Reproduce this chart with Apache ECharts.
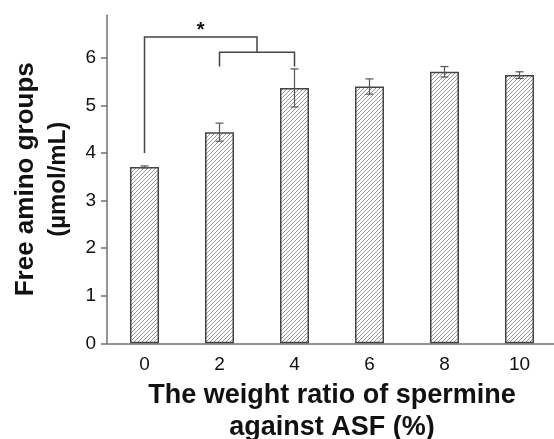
<!DOCTYPE html>
<html>
<head>
<meta charset="utf-8">
<script src="https://cdn.jsdelivr.net/npm/echarts@6/dist/echarts.min.js"></script>
<style>html,body{margin:0;padding:0;background:#fff;}#c{width:554px;height:439px;}</style>
</head>
<body>
<div id="c"></div>
<script>
var categories = ['0', '2', '4', '6', '8', '10'];
var means = [3.71, 4.44, 5.37, 5.40, 5.71, 5.64];
var errors = [0.02, 0.19, 0.40, 0.16, 0.11, 0.07];
var yTicks = [0, 1, 2, 3, 4, 5, 6];
// significance bracket: group 0 vs groups 1 & 2
var sigLeft = 0;
var sigRight = [1, 2];
var sigLegBottoms = [4.0, 5.82, 5.82];
var sigOuterY = 6.44;
var sigInnerY = 6.12;
var sigStarY = 6.58;
var sigLabel = '*';

var pat = document.createElement('canvas');
pat.width = 4; pat.height = 4;
var g = pat.getContext('2d');
g.fillStyle = '#ffffff'; g.fillRect(0, 0, 4, 4);
g.strokeStyle = '#7c7c7c'; g.lineWidth = 0.8;
g.beginPath();
g.moveTo(-1, 5); g.lineTo(5, -1);
g.moveTo(-1, 1); g.lineTo(1, -1);
g.moveTo(3, 5); g.lineTo(5, 3);
g.stroke();

var chart = echarts.init(document.getElementById('c'), null, {renderer: 'canvas'});
var axisColor = '#707070';
var font = 'Liberation Sans, Arial, sans-serif';

chart.setOption({
  animation: false,
  grid: {left: 107, right: -3, top: 15.2, bottom: 95.7, outerBoundsMode: 'none'},
  xAxis: {
    type: 'category',
    data: categories,
    axisLine: {lineStyle: {color: axisColor, width: 1.5}},
    axisTick: {alignWithLabel: true, length: 6, lineStyle: {color: axisColor, width: 1.5}},
    axisLabel: {fontSize: 19, color: '#111', margin: 12, fontFamily: font},
    name: 'The weight ratio of spermine\nagainst ASF (%)',
    nameLocation: 'middle',
    nameGap: 32,
    nameTextStyle: {fontSize: 27, fontWeight: 'bold', color: '#111', lineHeight: 32, fontFamily: font}
  },
  yAxis: {
    type: 'value',
    min: 0, max: 6.9,
    interval: 1,
    splitLine: {show: false},
    axisLine: {show: true, lineStyle: {color: axisColor, width: 1.5}},
    axisTick: {show: true, length: 6, customValues: yTicks, lineStyle: {color: axisColor, width: 1.5}},
    axisLabel: {fontSize: 19, color: '#111', margin: 11, customValues: yTicks, fontFamily: font},
    name: '{a|Free amino groups}\n{b|(µmol/mL)}',
    nameLocation: 'middle',
    nameRotate: 90,
    nameGap: 33,
    nameTextStyle: {
      color: '#111', fontFamily: font, fontWeight: 'bold',
      rich: {
        a: {fontSize: 26, fontWeight: 'bold', lineHeight: 32, fontFamily: font, color: '#111'},
        b: {fontSize: 24, fontWeight: 'bold', lineHeight: 32, fontFamily: font, color: '#111'}
      }
    }
  },
  series: [
    {
      type: 'bar',
      data: means,
      barWidth: 29,
      itemStyle: {color: {image: pat, repeat: 'repeat'}, borderColor: '#444', borderWidth: 1.5},
      z: 2
    },
    {
      type: 'custom',
      z: 3,
      data: means.map(function (m, i) { return [i, m, errors[i]]; }),
      renderItem: function (params, api) {
        var i = api.value(0), m = api.value(1), e = api.value(2);
        var top = api.coord([i, m + e]);
        var bot = api.coord([i, m - e]);
        var w = 4;
        var st = {stroke: '#555', lineWidth: 1.2};
        return {
          type: 'group',
          children: [
            {type: 'line', shape: {x1: top[0], y1: top[1], x2: bot[0], y2: bot[1]}, style: st},
            {type: 'line', shape: {x1: top[0] - w, y1: top[1], x2: top[0] + w, y2: top[1]}, style: st},
            {type: 'line', shape: {x1: bot[0] - w, y1: bot[1], x2: bot[0] + w, y2: bot[1]}, style: st}
          ]
        };
      }
    },
    {
      type: 'custom',
      z: 4,
      data: [[sigLeft, sigOuterY]],
      renderItem: function (params, api) {
        var pL = api.coord([sigLeft, sigLegBottoms[0]]);
        var pL2 = api.coord([sigLeft, sigOuterY]);
        var r1 = api.coord([sigRight[0], sigInnerY]);
        var r2 = api.coord([sigRight[1], sigInnerY]);
        var r1b = api.coord([sigRight[0], sigLegBottoms[1]]);
        var r2b = api.coord([sigRight[1], sigLegBottoms[2]]);
        var midX = (r1[0] + r2[0]) / 2;
        var starP = api.coord([sigLeft, sigStarY]);
        var st = {stroke: '#444', lineWidth: 1.5, fill: null};
        return {
          type: 'group',
          children: [
            {type: 'polyline', shape: {points: [[pL[0], pL[1]], [pL2[0], pL2[1]], [midX, pL2[1]], [midX, r1[1]]]}, style: st},
            {type: 'polyline', shape: {points: [[r1b[0], r1b[1]], [r1[0], r1[1]], [r2[0], r2[1]], [r2b[0], r2b[1]]]}, style: st},
            {type: 'text', style: {text: sigLabel, x: (pL[0] + midX) / 2, y: starP[1], textAlign: 'center', textVerticalAlign: 'middle', font: 'bold 20px Liberation Sans, Arial, sans-serif', fill: '#111'}}
          ]
        };
      }
    }
  ]
});
</script>
</body>
</html>
